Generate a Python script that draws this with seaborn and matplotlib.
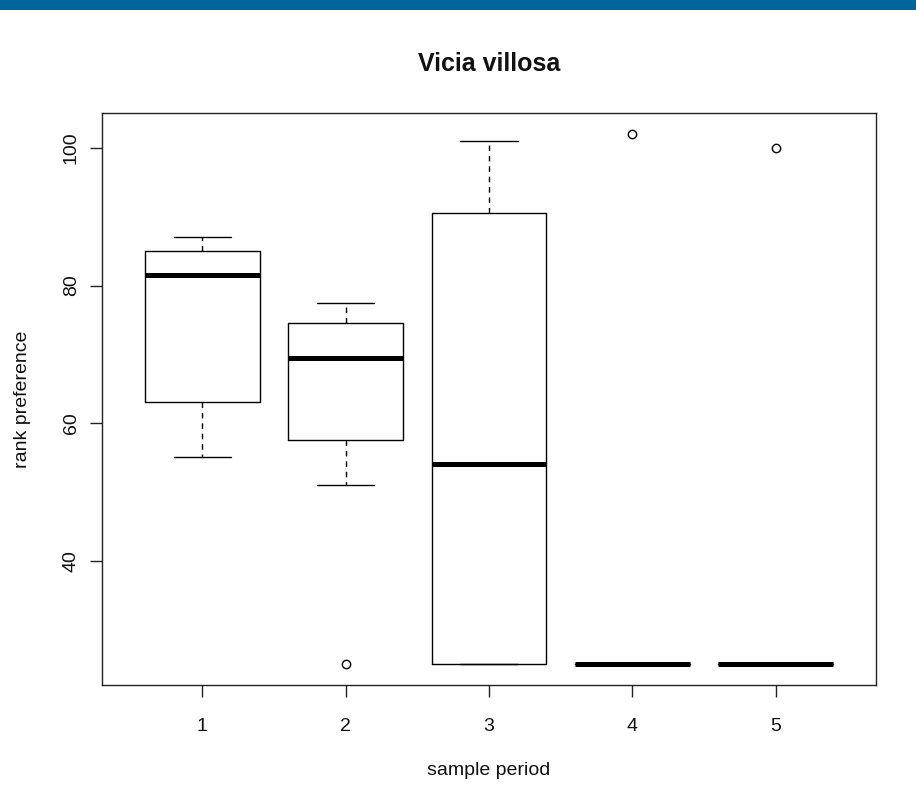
import matplotlib
matplotlib.use("Agg")
import matplotlib.pyplot as plt
from matplotlib.patches import Rectangle
import numpy as np
import pandas as pd
import seaborn as sns

# rank preference of Vicia villosa in each sample period
period_1 = [55, 63, 81.5, 85, 87]
period_2 = [25, 51, 57.5, 63, 69.5, 72, 74.5, 76, 77.5]
period_3 = [25, 25, 54, 90.5, 101]
period_4 = [25, 25, 25, 25, 102]
period_5 = [25, 25, 25, 25, 100]

periods = ["1", "2", "3", "4", "5"]
groups = [period_1, period_2, period_3, period_4, period_5]
y_ticks = [40, 60, 80, 100]

df = pd.DataFrame({
    "period": [p for p, g in zip(periods, groups) for _ in g],
    "rank": [v for g in groups for v in g],
})

sns.set_style("ticks")
plt.rcParams["font.family"] = ["Liberation Sans", "DejaVu Sans"]

fig = plt.figure(figsize=(9.16, 7.87), dpi=100)
ax = fig.add_axes([0.1114, 0.1296, 0.8450, 0.7268])

sns.boxplot(
    data=df, x="period", y="rank", order=periods, ax=ax,
    fill=False, color="black", width=0.8, linewidth=1.0, whis=1.5,
    boxprops=dict(color="black", linewidth=1.0),
    medianprops=dict(color="black", linewidth=3.6, solid_capstyle="butt"),
    whiskerprops=dict(color="black", linewidth=1.0, linestyle=(0, (4, 3.5))),
    capprops=dict(color="black", linewidth=1.0),
    flierprops=dict(marker="o", markersize=6, markerfacecolor="none",
                    markeredgecolor="black", markeredgewidth=1.0),
)

ax.set_xlim(-0.7, 4.7)
ax.set_ylim(21.92, 105.08)
ax.set_yticks(y_ticks)
ax.set_yticklabels([str(t) for t in y_ticks], rotation=90, va="center")
ax.set_xticks(range(len(periods)))
ax.set_xticklabels(periods)

for s in ax.spines.values():
    s.set_visible(True)
    s.set_color("#222222")
    s.set_linewidth(1.0)

ax.tick_params(axis="both", direction="out", length=8.5, width=1.0,
               color="#222222", labelsize=14, labelcolor="#111111")
ax.tick_params(axis="x", pad=15.5)
ax.tick_params(axis="y", pad=7.5)

ax.set_xlabel("sample period", fontsize=14, labelpad=19, color="#111111")
ax.set_ylabel("rank preference", fontsize=14, labelpad=23, color="#111111")
ax.set_title("Vicia villosa", fontsize=18, fontweight="bold", pad=30,
             color="#111111")

# header band across the top of the figure
fig.patches.append(Rectangle((0, 1 - 10 / 787), 1, 10 / 787,
                             transform=fig.transFigure, facecolor="#00659a",
                             edgecolor="none", zorder=5))

fig.savefig("out.png", dpi=100, facecolor="white")
